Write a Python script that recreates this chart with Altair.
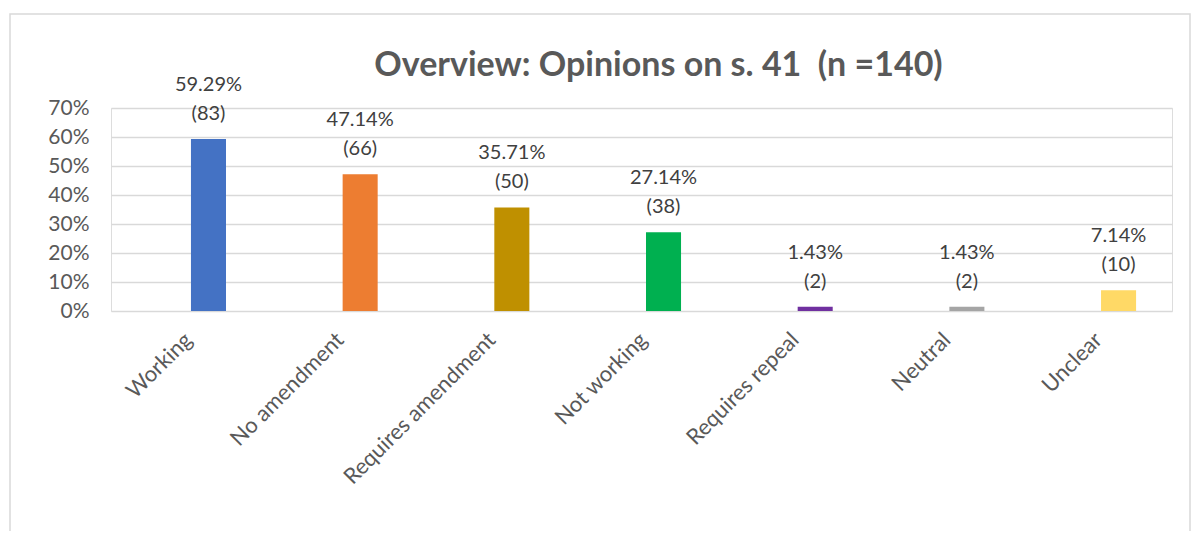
import altair as alt
import pandas as pd

categories = ["Working", "No amendment", "Requires amendment", "Not working",
              "Requires repeal", "Neutral", "Unclear"]
percent = [59.29, 47.14, 35.71, 27.14, 1.43, 1.43, 7.14]
counts = [83, 66, 50, 38, 2, 2, 10]
colors = ["#4472C4", "#ED7D31", "#BF9000", "#00B050", "#7030A0", "#A5A5A5", "#FFD966"]
y_ticks = [0, 0.1, 0.2, 0.3, 0.4, 0.5, 0.6, 0.7]

df = pd.DataFrame({
    "category": categories,
    "value": [p / 100 for p in percent],
    "label": [f"{p:.2f}%\n({c})" for p, c in zip(percent, counts)],
})

FONT = "Lato"
W, H = 1061, 203

x = alt.X("category:N", sort=categories,
          scale=alt.Scale(paddingInner=0.769, paddingOuter=0.382, align=0.69),
          axis=alt.Axis(title=None, labelAngle=-45, labelAlign="right",
                        labelBaseline="middle", labelPadding=25, labelOffset=-20,
                        labelFontSize=22, labelColor="#595959", labelFont=FONT,
                        labelLimit=0, labelOverlap=False,
                        domain=False, ticks=False, grid=False))
y = alt.Y("value:Q",
          scale=alt.Scale(domain=[0, 0.7], nice=False, zero=True),
          axis=alt.Axis(title=None, format=".0%", values=y_ticks, tickCount=8,
                        labelFontSize=21, labelColor="#595959", labelFont=FONT,
                        labelOverlap=False, labelFlush=False, labelPadding=22,
                        domain=False, ticks=False,
                        gridColor="#D9D9D9", gridWidth=1.5))

bars = alt.Chart(df).mark_bar().encode(
    x=x, y=y,
    color=alt.Color("category:N", scale=alt.Scale(domain=categories, range=colors), legend=None),
)

labels = alt.Chart(df).mark_text(
    baseline="bottom", align="center", dy=-44, lineBreak="\n", lineHeight=29,
    fontSize=20, font=FONT, color="#404040",
).encode(x=x, y=y, text="label:N")

frame = alt.Chart(pd.DataFrame({"a": [0]})).mark_rect(
    fill=None, stroke="#D9D9D9", strokeWidth=1.5,
).encode(x=alt.value(-101), x2=alt.value(1079), y=alt.value(-94), y2=alt.value(452))

chart = alt.layer(frame, bars, labels).properties(
    width=W, height=H,
    title=alt.TitleParams("Overview: Opinions on s. 41 \u00a0(n =140)", font=FONT,
                          fontSize=34, fontWeight="bold", color="#595959",
                          anchor="middle", dx=17, offset=-97, frame="group",
                          baseline="alphabetic"),
    autosize=alt.AutoSizeParams(type="none"),
    padding={"left": 103, "top": 100, "right": 20, "bottom": 220},
).configure_view(stroke=None).configure(background="white")

chart.save("out.html", embed_options={"renderer": "svg", "actions": False})
